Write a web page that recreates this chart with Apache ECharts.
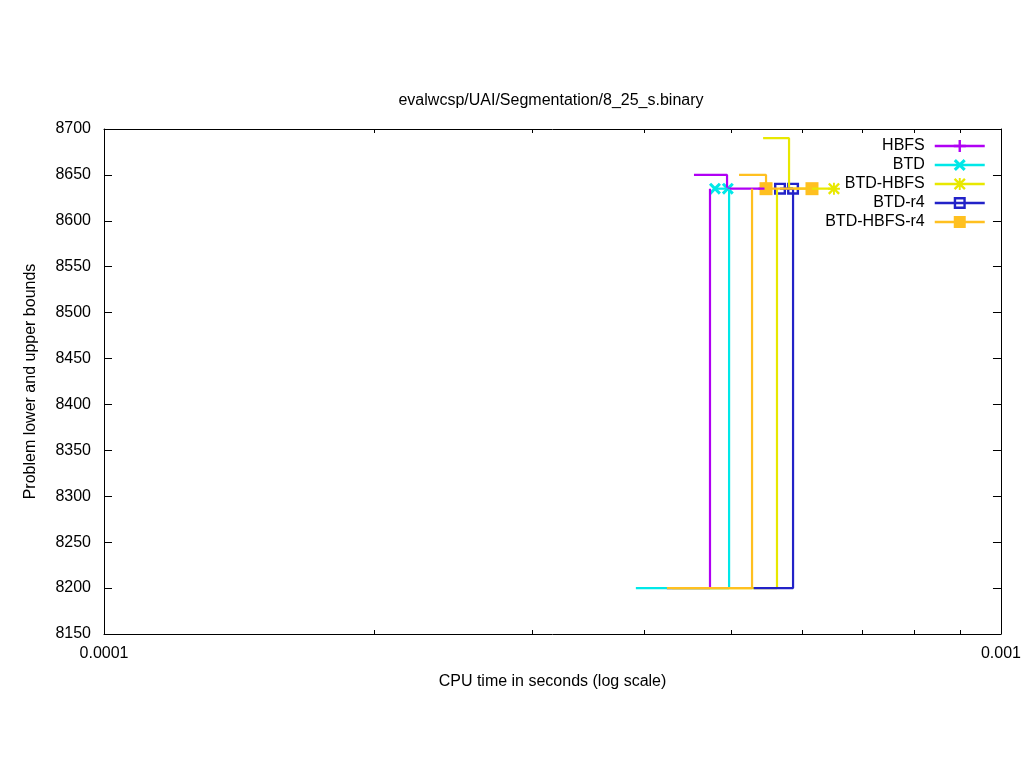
<!DOCTYPE html>
<html>
<head>
<meta charset="utf-8">
<script src="https://cdn.jsdelivr.net/npm/echarts@6/dist/echarts.min.js"></script>
<style>html,body{margin:0;padding:0;background:#fff}#c{width:1024px;height:768px}</style>
</head>
<body>
<div id="c"></div>
<script>
// ---- data (time in seconds, bound value) ----
const seriesNames = ['HBFS', 'BTD', 'BTD-HBFS', 'BTD-r4', 'BTD-HBFS-r4'];
const hbfsLower = [[4.24e-4, 8200], [4.738e-4, 8200], [4.738e-4, 8635]];
const hbfsUpper = [[4.547e-4, 8650], [4.95e-4, 8650], [4.95e-4, 8635], [5.45e-4, 8635]];
const hbfsMarks = [[5.45e-4, 8635]];
const btdLower = [[3.917e-4, 8200], [4.976e-4, 8200], [4.976e-4, 8635]];
const btdUpper = [[4.799e-4, 8635], [4.96e-4, 8635]];
const btdMarks = [[4.799e-4, 8635], [4.96e-4, 8635]];
const btdHbfsLower = [[4.30e-4, 8200], [5.627e-4, 8200], [5.627e-4, 8635]];
const btdHbfsUpper = [[5.43e-4, 8690], [5.804e-4, 8690], [5.804e-4, 8635], [6.513e-4, 8635]];
const btdHbfsMarks = [[6.513e-4, 8635]];
const btdR4Lower = [[5.30e-4, 8200], [5.864e-4, 8200], [5.864e-4, 8635]];
const btdR4Upper = [[5.671e-4, 8635], [5.864e-4, 8635]];
const btdR4Marks = [[5.671e-4, 8635], [5.864e-4, 8635]];
const btdHbfsR4Lower = [[4.242e-4, 8200], [5.278e-4, 8200], [5.278e-4, 8635]];
const btdHbfsR4Upper = [[5.105e-4, 8650], [5.471e-4, 8650], [5.471e-4, 8635], [6.156e-4, 8635]];
const btdHbfsR4Marks = [[5.471e-4, 8635], [6.156e-4, 8635]];

const xMin = 0.0001, xMax = 0.001;
const xTickLabels = ['0.0001', '0.001'];
const xMinorTicks = [0.0002, 0.0003, 0.0004, 0.0005, 0.0006, 0.0007, 0.0008, 0.0009];
const yMin = 8150, yMax = 8700, yStep = 50;

// ---- styling ----
const colors = ['#b000f4', '#00e8e8', '#e8e800', '#2222c8', '#ffc020'];
const symPlus = 'path://M4,0H6V4H10V6H6V10H4V6H0V4H4Z';
const symX = 'path://M0,1.8L1.8,0L5,3.2L8.2,0L10,1.8L6.8,5L10,8.2L8.2,10L5,6.8L1.8,10L0,8.2L3.2,5Z';
const symStar = 'path://M4.2,0H5.8V4.2H10V5.8H5.8V10H4.2V5.8H0V4.2H4.2Z M0,1.4L1.4,0L5,3.6L8.6,0L10,1.4L6.4,5L10,8.6L8.6,10L5,6.4L1.4,10L0,8.6L3.6,5Z';
const symBox = 'path://M0,0H10V10H0Z M2,2V8H8V2Z';
const symRect = 'rect';
const symbols = [symPlus, symX, symStar, symBox, symRect];
const markSizes = [12, 12, 12, 12, 13];
const groups = [
  [hbfsLower, hbfsUpper, hbfsMarks],
  [btdLower, btdUpper, btdMarks],
  [btdHbfsLower, btdHbfsUpper, btdHbfsMarks],
  [btdR4Lower, btdR4Upper, btdR4Marks],
  [btdHbfsR4Lower, btdHbfsR4Upper, btdHbfsR4Marks]
];

const FONT = 'Liberation Sans, Arial, sans-serif';
const series = [];
groups.forEach((g, i) => {
  const common = {
    name: seriesNames[i],
    type: 'line',
    symbol: symbols[i],
    symbolSize: markSizes[i],
    showSymbol: false,
    color: colors[i],
    lineStyle: { width: 2.2, color: colors[i] },
    animation: false,
    silent: true
  };
  series.push(Object.assign({}, common, { data: g[1] }));
  series.push(Object.assign({}, common, { data: g[0] }));
  series.push({
    name: seriesNames[i],
    type: 'scatter',
    symbol: symbols[i],
    symbolSize: markSizes[i],
    itemStyle: { color: colors[i], opacity: 1 },
    data: g[2],
    animation: false,
    silent: true
  });
});

const axisLineStyle = { lineStyle: { color: '#000', width: 1 } };
const chart = echarts.init(document.getElementById('c'), null, { renderer: 'canvas' });
chart.setOption({
  backgroundColor: '#fff',
  animation: false,
  title: {
    text: 'evalwcsp/UAI/Segmentation/8_25_s.binary',
    left: 546, top: 88, textAlign: 'center',
    textStyle: { fontFamily: FONT, fontSize: 16, fontWeight: 'normal', color: '#000' }
  },
  legend: {
    data: seriesNames,
    orient: 'vertical',
    right: 33, top: 133,
    align: 'right',
    itemWidth: 50, itemHeight: 15, itemGap: 3,
    textStyle: { fontFamily: FONT, fontSize: 16, color: '#000', padding: [0, 5, 0, 0] },
    lineStyle: { width: 2.5 },
    selectedMode: false
  },
  grid: { left: 104, right: 23, top: 129, bottom: 134, containLabel: false },
  xAxis: [{
    type: 'log', logBase: 10, min: xMin, max: xMax,
    name: 'CPU time in seconds (log scale)', nameLocation: 'middle', nameGap: 40,
    nameTextStyle: { fontFamily: FONT, fontSize: 16, color: '#000' },
    axisLine: axisLineStyle,
    axisTick: { show: true, inside: true, length: 4, customValues: xMinorTicks, lineStyle: { color: '#000' } },
    axisLabel: { fontFamily: FONT, fontSize: 16, color: '#000', margin: 12, customValues: [xMin, xMax],
      formatter: v => (v < 0.0003 ? xTickLabels[0] : xTickLabels[1]) },
    splitLine: { show: false }, minorTick: { show: false }
  }, {
    type: 'log', logBase: 10, min: xMin, max: xMax, position: 'top',
    axisLine: axisLineStyle,
    axisTick: { show: true, inside: true, length: 4, customValues: xMinorTicks, lineStyle: { color: '#000' } },
    axisLabel: { show: false }, splitLine: { show: false }
  }],
  yAxis: [{
    type: 'value', min: yMin, max: yMax, interval: yStep,
    name: 'Problem lower and upper bounds', nameLocation: 'middle', nameGap: 65,
    nameTextStyle: { fontFamily: FONT, fontSize: 16, color: '#000' },
    axisLine: { show: true, lineStyle: { color: '#000', width: 1 } },
    axisTick: { show: true, inside: true, length: 8, lineStyle: { color: '#000' } },
    axisLabel: { fontFamily: FONT, fontSize: 16, color: '#000', margin: 13, formatter: v => String(v) },
    splitLine: { show: false }
  }, {
    type: 'value', min: yMin, max: yMax, interval: yStep, position: 'right',
    axisLine: { show: true, lineStyle: { color: '#000', width: 1 } },
    axisTick: { show: true, inside: true, length: 8, lineStyle: { color: '#000' } },
    axisLabel: { show: false }, splitLine: { show: false }
  }],
  series: series
});
</script>
</body>
</html>
